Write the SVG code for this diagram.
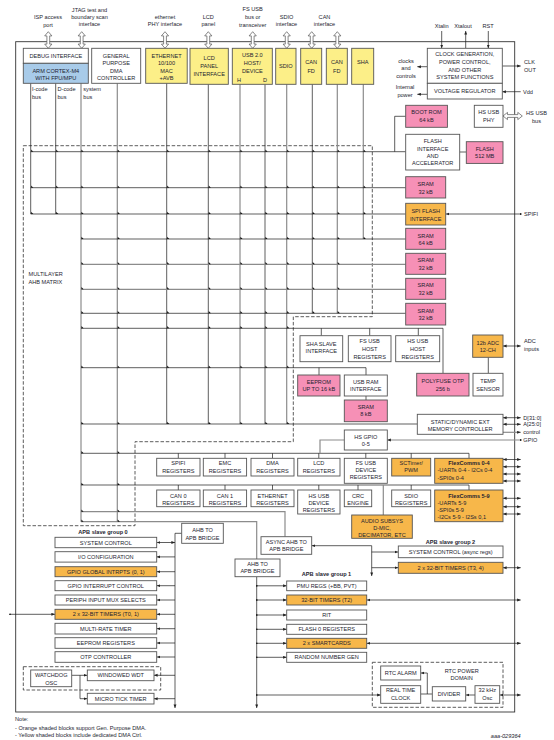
<svg xmlns="http://www.w3.org/2000/svg" width="554" height="740" viewBox="0 0 554 740">
<style>
text{font-family:"Liberation Sans",Arial,sans-serif;font-size:5.6px;fill:#1e1e30}
.c{text-anchor:middle}
.s{font-size:5.2px}
.bd{font-weight:bold}
.b{fill:#fff;stroke:#555;stroke-width:0.9}
.y{fill:#fcef88}
.o{fill:#f7b74a}
.p{fill:#f690b6}
.bl{fill:#a8cbe9}
.k{fill:none;stroke:#1a1a1a;stroke-width:0.7}
.g{fill:none;stroke:#8c8c8c;stroke-width:1.2}
.ds{fill:none;stroke:#333;stroke-width:0.8;stroke-dasharray:3.5 1.8}
.ha{fill:#fff;stroke:#555;stroke-width:0.7}
.mk{fill:#111}
</style>
<defs>
<marker id="a" viewBox="0 0 6 6" refX="6" refY="3" markerWidth="3.6" markerHeight="3.6" markerUnits="userSpaceOnUse" orient="auto-start-reverse"><path d="M0,0.6 L6,3 L0,5.4 Z" fill="#222"/></marker>
<marker id="dt" viewBox="0 0 4 4" refX="2" refY="2" markerWidth="1.8" markerHeight="1.8" markerUnits="userSpaceOnUse"><circle cx="2" cy="2" r="2" fill="#222"/></marker>
<path id="hv" d="M0,0 L3.6,4.2 L1.4,4.2 L1.4,12.4 L3.6,12.4 L0,16.6 L-3.6,12.4 L-1.4,12.4 L-1.4,4.2 L-3.6,4.2 Z"/>
<path id="m" d="M0.4,-2.2 L0.4,0 L2.6,0 Z"/>
</defs>
<rect width="554" height="740" fill="#fff"/>

<!-- outer frame and matrix outline -->
<rect x="15.7" y="41.7" width="499" height="670.3" fill="none" stroke="#333" stroke-width="0.9"/>
<polygon class="ds" points="23.3,145.7 372.3,145.7 372.3,316.7 293.3,316.7 293.3,441.7 135,441.7 135,525.7 23.3,525.7"/>
<text x="28.5" y="276.3">MULTILAYER</text>
<text x="28.5" y="284">AHB MATRIX</text>

<!-- external labels top -->
<g id="labels-top">
<text class="c" x="48" y="19.3">ISP access</text><text class="c" x="48" y="27">port</text>
<text class="c" x="89.5" y="12">JTAG test and</text><text class="c" x="89.5" y="19.3">boundary scan</text><text class="c" x="89.5" y="26.3">interface</text>
<text class="c" x="165" y="19.3">ethernet</text><text class="c" x="165" y="26.3">PHY interface</text>
<text class="c" x="208.3" y="18.7">LCD</text><text class="c" x="208.3" y="26">panel</text>
<text class="c" x="252.7" y="11.3">FS USB</text><text class="c" x="252.7" y="19.3">bus or</text><text class="c" x="252.7" y="27">transceiver</text>
<text class="c" x="286.5" y="19.3">SDIO</text><text class="c" x="286.5" y="26.3">interface</text>
<text class="c" x="324.5" y="19.3">CAN</text><text class="c" x="324.5" y="26.3">interface</text>
<text class="c" x="441.7" y="27.7">Xtalin</text><text class="c" x="463" y="27.7">Xtalout</text><text class="c" x="488" y="27.7">RST</text>
<text class="c" x="406" y="63">clocks</text><text class="c" x="406" y="70.3">and</text><text class="c" x="406" y="78">controls</text>
<text class="c" x="405" y="89.3">Internal</text><text class="c" x="405" y="97">power</text>
<text x="524" y="64.3">CLK</text><text x="524" y="72">OUT</text>
<text x="523" y="93.7">Vdd</text>
<text class="c" x="536.5" y="115.3">HS USB</text><text class="c" x="536.5" y="122.7">bus</text>
<text x="32" y="91.3">I-code</text><text x="32" y="98.7">bus</text>
<text x="57.5" y="91.3">D-code</text><text x="57.5" y="98.7">bus</text>
<text x="83.3" y="91.3">system</text><text x="83.3" y="98.7">bus</text>
<text x="524" y="216">SPIFI</text>
<text x="524" y="343">ADC</text><text x="524" y="351">inputs</text>
<text x="523.3" y="419.7">D[31:0]</text><text x="523.3" y="426.3">A[25:0]</text><text x="523.3" y="434.3" fill="#666">control</text><text x="523.3" y="442">GPIO</text>
<text class="c bd" x="103" y="533.5">APB slave group 0</text>
<text class="c bd" x="326.5" y="576.3">APB slave group 1</text>
<text class="c bd" x="450.5" y="544.3">APB slave group 2</text>
<text x="15" y="721">Note:</text>
<text x="15" y="729.7">- Orange shaded blocks support Gen. Purpose DMA.</text>
<text x="15" y="737">- Yellow shaded blocks include dedicated DMA Ctrl.</text>
<text x="520.7" y="737.5" text-anchor="end" font-size="4.5" font-style="italic">aaa-029364</text>
</g>

<!-- connectors -->
<g id="connectors">
<line class="k" x1="30.7" y1="83.3" x2="30.7" y2="214"/>
<line class="k" x1="55.7" y1="83.3" x2="55.7" y2="214"/>
<line class="g" x1="81" y1="83.3" x2="81" y2="521.7"/>
<line class="g" x1="117.3" y1="83.3" x2="117.3" y2="521.7"/>
<line class="k" x1="166.7" y1="83.3" x2="166.7" y2="424"/>
<line class="k" x1="208.3" y1="84.3" x2="208.3" y2="424"/>
<line class="g" x1="240" y1="84.3" x2="240" y2="424"/>
<line class="k" x1="265" y1="84.3" x2="265" y2="424"/>
<line class="g" x1="286.7" y1="84.3" x2="286.7" y2="424"/>
<line class="k" x1="312.3" y1="84.3" x2="312.3" y2="313.3"/>
<line class="g" x1="337.3" y1="84.3" x2="337.3" y2="313.3"/>
<line class="g" x1="363.3" y1="84.3" x2="363.3" y2="239"/>

<line class="k" x1="30.7" y1="151.7" x2="405.7" y2="151.7"/>
<line class="k" x1="30.7" y1="187.7" x2="405.7" y2="187.7"/>
<line class="k" x1="30.7" y1="214" x2="405.7" y2="214"/>
<line class="k" x1="81" y1="239" x2="405.7" y2="239"/>
<line class="g" x1="81" y1="264.3" x2="405.7" y2="264.3"/>
<line class="g" x1="81" y1="289.3" x2="405.7" y2="289.3"/>
<line class="k" x1="81" y1="313.3" x2="405.7" y2="313.3"/>
<path class="k" d="M81,328.3 H443 V373.3"/>
<path class="k" d="M321.3,328.3 V335.7 M369.7,328.3 V335.7 M418.3,328.3 V335.7"/>
<path class="k" d="M81,367.7 H366 V375 M319,367.7 V375"/>
<line class="k" x1="366" y1="396" x2="366" y2="400"/>
<line class="k" x1="488.3" y1="357.3" x2="488.3" y2="373.3"/>
<line class="k" x1="81" y1="424" x2="417.3" y2="424"/>
<line class="k" x1="81" y1="453.3" x2="469" y2="453.3"/>
<path class="k" d="M178.3,453.3 V458.3 M225,453.3 V458.3 M272.5,453.3 V458.3 M318.8,453.3 V458.3 M365.8,453.3 V458.3 M411.2,453.3 V458.3 M469,453.3 V458.3"/>
<path class="g" d="M344.3,440 H320 V453.3"/>
<line class="k" x1="81" y1="485" x2="469" y2="485"/>
<path class="k" d="M178.3,485 V490 M225,485 V490 M272.5,485 V490 M318.8,485 V490 M358,485 V490 M411.2,485 V490 M469,485 V490"/>
<path class="g" d="M383.3,485 V515"/>
<path class="g" d="M81,511.7 H285 V536.7"/>
<path class="g" d="M81,521.7 H256.7 V559"/>

<path class="k" d="M394.7,151.7 V116.3 H405.7"/>
<line class="k" x1="459.7" y1="152" x2="466.3" y2="152"/>

<!-- clock arrows -->
<line class="k" x1="441.7" y1="31" x2="441.7" y2="48.3" marker-end="url(#a)"/>
<line class="k" x1="465.7" y1="48.3" x2="465.7" y2="31" marker-end="url(#a)"/>
<line class="k" x1="488.3" y1="31" x2="488.3" y2="48.3" marker-end="url(#a)"/>
<line class="k" x1="427.3" y1="66.7" x2="417.3" y2="66.7" marker-end="url(#a)"/>
<line class="k" x1="427.3" y1="94.3" x2="417.3" y2="94.3" marker-end="url(#a)"/>
<line class="k" x1="502.3" y1="66" x2="520.7" y2="66" marker-end="url(#a)"/>
<line class="k" x1="520.7" y1="91.7" x2="502.3" y2="91.7" marker-end="url(#a)"/>

<!-- external IO -->
<line class="k" x1="520.7" y1="214" x2="445.7" y2="214" marker-start="url(#dt)" marker-end="url(#a)"/>
<line class="k" x1="503" y1="346" x2="520.7" y2="346" marker-start="url(#a)" marker-end="url(#a)"/>
<line class="k" x1="503" y1="417.7" x2="520.7" y2="417.7" marker-start="url(#a)" marker-end="url(#a)"/>
<line class="k" x1="503" y1="424.3" x2="520.7" y2="424.3" marker-start="url(#a)" marker-end="url(#a)"/>
<line class="g" x1="503" y1="432.3" x2="520.7" y2="432.3" marker-end="url(#a)"/>
<line class="g" x1="520.7" y1="440" x2="387.3" y2="440" marker-start="url(#dt)" marker-end="url(#a)"/>
<line class="k" x1="503" y1="459.5" x2="520.7" y2="459.5" marker-start="url(#a)" marker-end="url(#a)"/>
<line class="k" x1="503" y1="466.7" x2="520.7" y2="466.7" marker-start="url(#a)" marker-end="url(#a)"/>
<line class="k" x1="503" y1="474" x2="520.7" y2="474" marker-start="url(#a)" marker-end="url(#a)"/>
<line class="k" x1="503" y1="481" x2="520.7" y2="481" marker-start="url(#a)" marker-end="url(#a)"/>
<line class="k" x1="503" y1="498.3" x2="520.7" y2="498.3" marker-start="url(#a)" marker-end="url(#a)"/>
<line class="k" x1="503" y1="506.7" x2="520.7" y2="506.7" marker-start="url(#a)" marker-end="url(#a)"/>
<line class="k" x1="503" y1="514" x2="520.7" y2="514" marker-start="url(#a)" marker-end="url(#a)"/>

<!-- APB group 0 -->
<path class="k" d="M181.7,533.3 H175 V708" marker-end="url(#a)"/>
<line class="k" x1="175" y1="542.5" x2="156.7" y2="542.5" marker-start="url(#a)" marker-end="url(#a)"/>
<line class="k" x1="175" y1="556.9" x2="156.7" y2="556.9" marker-end="url(#a)"/>
<line class="k" x1="175" y1="571.7" x2="156.7" y2="571.7" marker-end="url(#a)"/>
<line class="k" x1="175" y1="585.7" x2="156.7" y2="585.7" marker-end="url(#a)"/>
<line class="k" x1="175" y1="600" x2="156.7" y2="600" marker-end="url(#a)"/>
<line class="k" x1="175" y1="614.3" x2="156.7" y2="614.3" marker-end="url(#a)"/>
<line class="k" x1="175" y1="628.7" x2="156.7" y2="628.7" marker-end="url(#a)"/>
<line class="k" x1="175" y1="643" x2="156.7" y2="643" marker-end="url(#a)"/>
<line class="k" x1="175" y1="657" x2="156.7" y2="657" marker-end="url(#a)"/>
<line class="k" x1="175" y1="675.3" x2="154" y2="675.3" marker-end="url(#a)"/>
<line class="k" x1="175" y1="698.7" x2="154" y2="698.7" marker-end="url(#a)"/>
<line class="k" x1="10" y1="614.3" x2="55" y2="614.3" marker-start="url(#dt)" marker-end="url(#a)"/>
<line class="k" x1="71.7" y1="675.3" x2="87.3" y2="675.3" marker-end="url(#a)"/>
<path class="k" d="M80,675.3 V698.7 H87.3" marker-end="url(#a)"/>

<!-- APB group 1 -->
<line class="k" x1="256.7" y1="576.7" x2="256.7" y2="708" marker-end="url(#a)"/>
<line class="k" x1="256.7" y1="585.8" x2="286.7" y2="585.8" marker-start="url(#dt)" marker-end="url(#a)"/>
<line class="k" x1="256.7" y1="600" x2="286.7" y2="600" marker-start="url(#dt)" marker-end="url(#a)"/>
<line class="k" x1="256.7" y1="615" x2="286.7" y2="615" marker-start="url(#dt)" marker-end="url(#a)"/>
<line class="k" x1="256.7" y1="629.3" x2="286.7" y2="629.3" marker-start="url(#dt)" marker-end="url(#a)"/>
<line class="k" x1="256.7" y1="643.3" x2="286.7" y2="643.3" marker-start="url(#dt)" marker-end="url(#a)"/>
<line class="k" x1="256.7" y1="657.3" x2="286.7" y2="657.3" marker-start="url(#dt)" marker-end="url(#a)"/>
<line class="k" x1="256.7" y1="695" x2="380.7" y2="695" marker-start="url(#dt)" marker-end="url(#a)"/>
<line class="k" x1="366.7" y1="600" x2="520.7" y2="600" marker-start="url(#a)" marker-end="url(#a)"/>
<line class="k" x1="366.7" y1="643.3" x2="520.7" y2="643.3" marker-start="url(#a)" marker-end="url(#a)"/>

<!-- APB group 2 -->
<line class="k" x1="371.7" y1="545.7" x2="311.7" y2="545.7" marker-end="url(#a)"/>
<line class="k" x1="371.7" y1="545.7" x2="371.7" y2="576" marker-end="url(#a)"/>
<line class="k" x1="371.7" y1="552" x2="398.3" y2="552" marker-end="url(#a)"/>
<line class="k" x1="371.7" y1="567.7" x2="398.3" y2="567.7" marker-end="url(#a)"/>
<line class="k" x1="503" y1="567.7" x2="520.7" y2="567.7" marker-start="url(#a)" marker-end="url(#a)"/>

<!-- RTC -->
<line class="k" x1="475" y1="695" x2="465.7" y2="695" marker-end="url(#a)"/>
<line class="k" x1="432.3" y1="694" x2="420.7" y2="694"/>
<path class="k" d="M427.3,694 V673 H420.7" marker-end="url(#a)"/>
<line class="k" x1="499.7" y1="695" x2="520.7" y2="695" marker-start="url(#a)" marker-end="url(#a)"/>

<!-- connection marks -->
<g class="mk">
<use href="#m" x="30.7" y="151.7"/><use href="#m" x="55.7" y="151.7"/><use href="#m" x="81" y="151.7"/><use href="#m" x="117.3" y="151.7"/><use href="#m" x="166.7" y="151.7"/><use href="#m" x="208.3" y="151.7"/><use href="#m" x="240" y="151.7"/><use href="#m" x="265" y="151.7"/><use href="#m" x="286.7" y="151.7"/><use href="#m" x="312.3" y="151.7"/><use href="#m" x="337.3" y="151.7"/><use href="#m" x="363.3" y="151.7"/>
<use href="#m" x="30.7" y="187.7"/><use href="#m" x="55.7" y="187.7"/><use href="#m" x="81" y="187.7"/><use href="#m" x="117.3" y="187.7"/><use href="#m" x="166.7" y="187.7"/><use href="#m" x="208.3" y="187.7"/><use href="#m" x="240" y="187.7"/><use href="#m" x="265" y="187.7"/><use href="#m" x="286.7" y="187.7"/><use href="#m" x="312.3" y="187.7"/><use href="#m" x="337.3" y="187.7"/><use href="#m" x="363.3" y="187.7"/>
<use href="#m" x="30.7" y="214"/><use href="#m" x="55.7" y="214"/><use href="#m" x="81" y="214"/><use href="#m" x="117.3" y="214"/><use href="#m" x="166.7" y="214"/><use href="#m" x="208.3" y="214"/><use href="#m" x="240" y="214"/><use href="#m" x="265" y="214"/><use href="#m" x="286.7" y="214"/><use href="#m" x="312.3" y="214"/><use href="#m" x="337.3" y="214"/><use href="#m" x="363.3" y="214"/>
<use href="#m" x="81" y="239"/><use href="#m" x="117.3" y="239"/><use href="#m" x="166.7" y="239"/><use href="#m" x="208.3" y="239"/><use href="#m" x="240" y="239"/><use href="#m" x="265" y="239"/><use href="#m" x="286.7" y="239"/><use href="#m" x="312.3" y="239"/><use href="#m" x="337.3" y="239"/><use href="#m" x="363.3" y="239"/>
<use href="#m" x="81" y="264.3"/><use href="#m" x="117.3" y="264.3"/><use href="#m" x="166.7" y="264.3"/><use href="#m" x="208.3" y="264.3"/><use href="#m" x="240" y="264.3"/><use href="#m" x="265" y="264.3"/><use href="#m" x="286.7" y="264.3"/><use href="#m" x="312.3" y="264.3"/><use href="#m" x="337.3" y="264.3"/>
<use href="#m" x="81" y="289.3"/><use href="#m" x="117.3" y="289.3"/><use href="#m" x="166.7" y="289.3"/><use href="#m" x="208.3" y="289.3"/><use href="#m" x="240" y="289.3"/><use href="#m" x="265" y="289.3"/><use href="#m" x="286.7" y="289.3"/><use href="#m" x="312.3" y="289.3"/><use href="#m" x="337.3" y="289.3"/>
<use href="#m" x="81" y="313.3"/><use href="#m" x="117.3" y="313.3"/><use href="#m" x="166.7" y="313.3"/><use href="#m" x="208.3" y="313.3"/><use href="#m" x="240" y="313.3"/><use href="#m" x="265" y="313.3"/><use href="#m" x="286.7" y="313.3"/><use href="#m" x="312.3" y="313.3"/><use href="#m" x="337.3" y="313.3"/>
<use href="#m" x="81" y="328.3"/><use href="#m" x="117.3" y="328.3"/><use href="#m" x="166.7" y="328.3"/><use href="#m" x="208.3" y="328.3"/><use href="#m" x="240" y="328.3"/><use href="#m" x="265" y="328.3"/><use href="#m" x="286.7" y="328.3"/>
<use href="#m" x="81" y="367.7"/><use href="#m" x="117.3" y="367.7"/><use href="#m" x="166.7" y="367.7"/><use href="#m" x="208.3" y="367.7"/><use href="#m" x="240" y="367.7"/><use href="#m" x="265" y="367.7"/><use href="#m" x="286.7" y="367.7"/>
<use href="#m" x="81" y="424"/><use href="#m" x="117.3" y="424"/><use href="#m" x="166.7" y="424"/><use href="#m" x="208.3" y="424"/><use href="#m" x="240" y="424"/><use href="#m" x="265" y="424"/><use href="#m" x="286.7" y="424"/>
<use href="#m" x="81" y="453.3"/><use href="#m" x="117.3" y="453.3"/><use href="#m" x="81" y="485"/><use href="#m" x="117.3" y="485"/>
<use href="#m" x="81" y="511.7"/><use href="#m" x="117.3" y="511.7"/><use href="#m" x="81" y="521.7"/><use href="#m" x="117.3" y="521.7"/>
</g>

<!-- hollow double arrows -->
<use href="#hv" class="ha" x="48.3" y="31.7"/>
<use href="#hv" class="ha" x="81.7" y="31.7"/>
<use href="#hv" class="ha" x="165" y="31.7"/>
<use href="#hv" class="ha" x="208.3" y="31.7"/>
<use href="#hv" class="ha" x="252.7" y="31.7"/>
<use href="#hv" class="ha" x="286.7" y="31.7"/>
<use href="#hv" class="ha" x="311.7" y="31.7"/>
<use href="#hv" class="ha" x="337.3" y="31.7"/>
<path class="ha" d="M503,116 L507.5,112.4 L507.5,114.6 L517.8,114.6 L517.8,112.4 L522.3,116 L517.8,119.6 L517.8,117.4 L507.5,117.4 L507.5,119.6 Z"/>
</g>

<!-- masters -->
<g id="n-debug"><rect class="b" x="23.3" y="48.3" width="65" height="15"/><text class="c" x="55.8" y="57.8">DEBUG INTERFACE</text></g>
<g id="n-arm"><rect class="b bl" x="23.3" y="63.3" width="65" height="20"/><text class="c" x="55.8" y="73">ARM CORTEX-M4</text><text class="c" x="55.8" y="79.7">WITH FPU/MPU</text></g>
<g id="n-dma"><rect class="b" x="91.7" y="48.3" width="49" height="35"/><text class="c" x="116.2" y="57.7">GENERAL</text><text class="c" x="116.2" y="65.3">PURPOSE</text><text class="c" x="116.2" y="72.7">DMA</text><text class="c" x="116.2" y="80.3">CONTROLLER</text></g>
<g id="n-eth"><rect class="b y" x="145.7" y="48.3" width="41.5" height="35"/><text class="c" x="166.5" y="57.7">ETHERNET</text><text class="c" x="166.5" y="65.3">10/100</text><text class="c" x="166.5" y="72.7">MAC</text><text class="c" x="166.5" y="80.3">+AVB</text></g>
<g id="n-lcd"><rect class="b y" x="190" y="48.3" width="38.3" height="36"/><text class="c" x="209.2" y="60.3">LCD</text><text class="c" x="209.2" y="68">PANEL</text><text class="c" x="209.2" y="76">INTERFACE</text></g>
<g id="n-usb"><rect class="b y" x="232.3" y="48.3" width="40" height="36"/><text class="c" x="252.3" y="57">USB 2.0</text><text class="c" x="252.3" y="64.7">HOST/</text><text class="c" x="252.3" y="72.7">DEVICE</text><text class="c" x="239" y="82">H</text><text class="c" x="265" y="82">D</text></g>
<g id="n-sdio"><rect class="b y" x="275.7" y="48.3" width="20.3" height="36"/><text class="c" x="285.8" y="68">SDIO</text></g>
<g id="n-can0"><rect class="b y" x="300.7" y="48.3" width="21" height="36"/><text class="c" x="311.2" y="64.3">CAN</text><text class="c" x="311.2" y="72.7">FD</text></g>
<g id="n-can1"><rect class="b y" x="326.3" y="48.3" width="21" height="36"/><text class="c" x="336.8" y="64.3">CAN</text><text class="c" x="336.8" y="72.7">FD</text></g>
<g id="n-sha"><rect class="b y" x="351.7" y="48.3" width="22" height="36"/><text class="c" x="362.7" y="64.3">SHA</text></g>
<g id="n-clock"><rect class="b" x="427.3" y="48.3" width="75" height="35"/><text class="c" x="464.8" y="56.3">CLOCK GENERATION,</text><text class="c" x="464.8" y="64.3">POWER CONTROL,</text><text class="c" x="464.8" y="72">AND OTHER</text><text class="c" x="464.8" y="79.3">SYSTEM FUNCTIONS</text></g>
<g id="n-vreg"><rect class="b" x="427.3" y="83.3" width="75" height="15.7"/><text class="c" x="464.8" y="93">VOLTAGE REGULATOR</text></g>
<g id="n-hsphy"><rect class="b" x="474.3" y="105.3" width="28.7" height="22"/><text class="c" x="488.7" y="114.3">HS USB</text><text class="c" x="488.7" y="122">PHY</text></g>

<!-- memory slaves -->
<g id="n-bootrom"><rect class="b p" x="405.7" y="105.3" width="41.7" height="22"/><text class="c" x="426.5" y="114.3">BOOT ROM</text><text class="c" x="426.5" y="122">64 kB</text></g>
<g id="n-flashif"><rect class="b" x="405.7" y="134.3" width="54" height="35.7"/><text class="c" x="432.7" y="143.3">FLASH</text><text class="c" x="432.7" y="150.5">INTERFACE</text><text class="c" x="432.7" y="157.8">AND</text><text class="c" x="432.7" y="165.3">ACCELERATOR</text></g>
<g id="n-flash"><rect class="b p" x="466.3" y="141.7" width="36.7" height="21.7"/><text class="c" x="484.7" y="150.5">FLASH</text><text class="c" x="484.7" y="158">512 MB</text></g>
<g id="n-sram0"><rect class="b p" x="405.7" y="176.7" width="40" height="21.3"/><text class="c" x="425.7" y="186.3">SRAM</text><text class="c" x="425.7" y="194">32 kB</text></g>
<g id="n-spifi"><rect class="b o" x="405.7" y="203.3" width="40" height="21.7"/><text class="c" x="425.7" y="213.2">SPI FLASH</text><text class="c" x="425.7" y="220.7">INTERFACE</text></g>
<g id="n-sram1"><rect class="b p" x="405.7" y="228.3" width="40" height="21"/><text class="c" x="425.7" y="237.7">SRAM</text><text class="c" x="425.7" y="244.7">64 kB</text></g>
<g id="n-sram2"><rect class="b p" x="405.7" y="253.3" width="40" height="21"/><text class="c" x="425.7" y="262.3">SRAM</text><text class="c" x="425.7" y="269.7">32 kB</text></g>
<g id="n-sram3"><rect class="b p" x="405.7" y="278.3" width="40" height="21"/><text class="c" x="425.7" y="287.3">SRAM</text><text class="c" x="425.7" y="294.7">32 kB</text></g>
<g id="n-sram4"><rect class="b p" x="405.7" y="303.3" width="40" height="21.7"/><text class="c" x="425.7" y="312.7">SRAM</text><text class="c" x="425.7" y="320">32 kB</text></g>

<!-- AHB slaves -->
<g id="n-shaslave"><rect class="b" x="300" y="335.7" width="42.7" height="26"/><text class="c" x="321.3" y="345.8">SHA SLAVE</text><text class="c" x="321.3" y="352.9">INTERFACE</text></g>
<g id="n-fshost"><rect class="b" x="348.3" y="335.7" width="42.7" height="26"/><text class="c" x="369.7" y="343">FS USB</text><text class="c" x="369.7" y="351">HOST</text><text class="c" x="369.7" y="358.7">REGISTERS</text></g>
<g id="n-hshost"><rect class="b" x="395.7" y="335.7" width="44" height="26"/><text class="c" x="417.7" y="343">HS USB</text><text class="c" x="417.7" y="351">HOST</text><text class="c" x="417.7" y="358.7">REGISTERS</text></g>
<g id="n-adc"><rect class="b o" x="472.7" y="335" width="30.3" height="22.3"/><text class="c" x="487.8" y="345.3">12b ADC</text><text class="c" x="487.8" y="352">12-CH</text></g>
<g id="n-eeprom"><rect class="b p" x="297.7" y="375" width="42.3" height="21"/><text class="c" x="318.8" y="383.7">EEPROM</text><text class="c" x="318.8" y="391.3">UP TO 16 kB</text></g>
<g id="n-usbram"><rect class="b" x="344.3" y="375" width="43" height="21"/><text class="c" x="365.8" y="383.7">USB RAM</text><text class="c" x="365.8" y="391.3">INTERFACE</text></g>
<g id="n-sram8"><rect class="b p" x="344.3" y="400" width="43" height="21.7"/><text class="c" x="365.8" y="409.3">SRAM</text><text class="c" x="365.8" y="416.3">8 kB</text></g>
<g id="n-otp"><rect class="b p" x="416.7" y="373.3" width="52.3" height="22.7"/><text class="c" x="442.8" y="382.7">POLYFUSE OTP</text><text class="c" x="442.8" y="391">256 b</text></g>
<g id="n-temp"><rect class="b" x="473" y="373.3" width="30" height="22.7"/><text class="c" x="488" y="382.7">TEMP</text><text class="c" x="488" y="391">SENSOR</text></g>
<g id="n-emc"><rect class="b" x="417.3" y="414.3" width="85.7" height="20"/><text class="c" x="460.2" y="423.7">STATIC/DYNAMIC EXT</text><text class="c" x="460.2" y="431.3">MEMORY CONTROLLER</text></g>
<g id="n-hsgpio"><rect class="b" x="344.3" y="430" width="43" height="20"/><text class="c" x="365.8" y="438.7">HS GPIO</text><text class="c" x="365.8" y="446">0-5</text></g>

<!-- AHB peripheral row 1 -->
<g id="n-spifireg"><rect class="b" x="156.7" y="458.3" width="43.3" height="17.7"/><text class="c" x="178.3" y="465.3">SPIFI</text><text class="c" x="178.3" y="472.7">REGISTERS</text></g>
<g id="n-emcreg"><rect class="b" x="203.3" y="458.3" width="43.3" height="17.7"/><text class="c" x="225" y="465.3">EMC</text><text class="c" x="225" y="472.7">REGISTERS</text></g>
<g id="n-dmareg"><rect class="b" x="251" y="458.3" width="43" height="17.7"/><text class="c" x="272.5" y="465.3">DMA</text><text class="c" x="272.5" y="472.7">REGISTERS</text></g>
<g id="n-lcdreg"><rect class="b" x="297.7" y="458.3" width="42.3" height="17.7"/><text class="c" x="318.8" y="465.3">LCD</text><text class="c" x="318.8" y="472.7">REGISTERS</text></g>
<g id="n-fsdev"><rect class="b" x="344.3" y="458.3" width="43" height="25"/><text class="c" x="365.8" y="465.3">FS USB</text><text class="c" x="365.8" y="472">DEVICE</text><text class="c" x="365.8" y="479.3">REGISTERS</text></g>
<g id="n-sct"><rect class="b o" x="391.7" y="458.3" width="39" height="17.7"/><text class="c" x="411.2" y="465.3">SCTimer/</text><text class="c" x="411.2" y="472.3">PWM</text></g>
<g id="n-fc04"><rect class="b o" x="434.7" y="458.3" width="68.3" height="25"/><text class="c bd" x="469" y="464.5">FlexComms 0-4</text><text x="437.5" y="472">-UARTs 0-4 - I2Cs 0-4</text><text x="437.5" y="479.7">-SPI0s 0-4</text></g>

<!-- AHB peripheral row 2 -->
<g id="n-can0reg"><rect class="b" x="156.7" y="490" width="43.3" height="16.7"/><text class="c" x="178.3" y="497.5">CAN 0</text><text class="c" x="178.3" y="504.5">REGISTERS</text></g>
<g id="n-can1reg"><rect class="b" x="203.3" y="490" width="43.3" height="16.7"/><text class="c" x="225" y="497.5">CAN 1</text><text class="c" x="225" y="504.5">REGISTERS</text></g>
<g id="n-ethreg"><rect class="b" x="251" y="490" width="43" height="16.7"/><text class="c" x="272.5" y="497.5">ETHERNET</text><text class="c" x="272.5" y="504.5">REGISTERS</text></g>
<g id="n-hsdev"><rect class="b" x="297.7" y="490" width="42.3" height="24"/><text class="c" x="318.8" y="497.5">HS USB</text><text class="c" x="318.8" y="504.7">DEVICE</text><text class="c" x="318.8" y="512">REGISTERS</text></g>
<g id="n-crc"><rect class="b" x="344.3" y="490" width="27.4" height="16.7"/><text class="c" x="358" y="497.5">CRC</text><text class="c" x="358" y="504.5">ENGINE</text></g>
<g id="n-sdioreg"><rect class="b" x="391.7" y="490" width="39" height="16.7"/><text class="c" x="411.2" y="497.5">SDIO</text><text class="c" x="411.2" y="504.5">REGISTERS</text></g>
<g id="n-fc59"><rect class="b o" x="434.7" y="490" width="68.3" height="31.7"/><text class="c bd" x="469" y="497.5">FlexComms 5-9</text><text x="437.5" y="504.7">-UARTs 5-9</text><text x="437.5" y="512">-SPI0s 5-9</text><text x="437.5" y="519">-I2Cs 5-9 - I2Ss 0,1</text></g>
<g id="n-audio"><rect class="b o" x="351.7" y="515" width="60.6" height="23.3"/><text class="c" x="382" y="522.7">AUDIO SUBSYS</text><text class="c" x="382" y="530.3">D-MIC,</text><text class="c" x="382" y="537.3">DECIMATOR, ETC</text></g>

<!-- bridges -->
<g id="n-bridge0"><rect class="b" x="181.7" y="523.3" width="41.6" height="20"/><text class="c" x="202.5" y="532">AHB TO</text><text class="c" x="202.5" y="539.7">APB BRIDGE</text></g>
<g id="n-bridge1"><rect class="b" x="235" y="559" width="45" height="17.7"/><text class="c" x="257.5" y="565.7">AHB TO</text><text class="c" x="257.5" y="572.7">APB BRIDGE</text></g>
<g id="n-bridge2"><rect class="b" x="261" y="536.7" width="50.7" height="17.6"/><text class="c" x="286.3" y="543.7">ASYNC AHB TO</text><text class="c" x="286.3" y="551.3">APB BRIDGE</text></g>

<!-- APB group 0 -->
<g id="n-sysctl"><rect class="b" x="55" y="537.3" width="101.7" height="10.4"/><text class="c" x="105.8" y="544.6">SYSTEM CONTROL</text></g>
<g id="n-iocon"><rect class="b" x="55" y="551.7" width="101.7" height="10.4"/><text class="c" x="105.8" y="559">I/O CONFIGURATION</text></g>
<g id="n-gint"><rect class="b o" x="55" y="566.7" width="101.7" height="10"/><text class="c" x="105.8" y="573.8">GPIO GLOBAL INTRPTS (0, 1)</text></g>
<g id="n-pint"><rect class="b" x="55" y="580.7" width="101.7" height="10"/><text class="c" x="105.8" y="587.8">GPIO INTERRUPT CONTROL</text></g>
<g id="n-inmux"><rect class="b" x="55" y="595" width="101.7" height="10"/><text class="c" x="105.8" y="602.1">PERIPH INPUT MUX SELECTS</text></g>
<g id="n-t01"><rect class="b o" x="55" y="609.3" width="101.7" height="10"/><text class="c" x="105.8" y="616.4">2 x 32-BIT TIMERS (T0, 1)</text></g>
<g id="n-mrt"><rect class="b" x="55" y="623.3" width="101.7" height="10.7"/><text class="c" x="105.8" y="630.7">MULTI-RATE TIMER</text></g>
<g id="n-eereg"><rect class="b" x="55" y="637.7" width="101.7" height="10.6"/><text class="c" x="105.8" y="645">EEPROM REGISTERS</text></g>
<g id="n-otpc"><rect class="b" x="55" y="651.7" width="101.7" height="10.6"/><text class="c" x="105.8" y="659">OTP CONTROLLER</text></g>
<rect class="ds" x="23.3" y="666.7" width="137.4" height="23.3"/>
<g id="n-wdosc"><rect class="b" x="30.7" y="670" width="41" height="16.7"/><text class="c" x="51.2" y="677">WATCHDOG</text><text class="c" x="51.2" y="684.5">OSC</text></g>
<g id="n-wwdt"><rect class="b" x="87.3" y="670" width="66.7" height="10.7"/><text class="c" x="120.7" y="677.4">WINDOWED WDT</text></g>
<g id="n-utick"><rect class="b" x="87.3" y="693.3" width="66.7" height="10.7"/><text class="c" x="120.7" y="700.7">MICRO TICK TIMER</text></g>

<!-- APB group 1 -->
<g id="n-pmu"><rect class="b" x="286.7" y="581" width="80" height="9.7"/><text class="c" x="326.7" y="587.9">PMU REGS (+BB, PVT)</text></g>
<g id="n-t2"><rect class="b o" x="286.7" y="595" width="80" height="10"/><text class="c" x="326.7" y="602.1">32-BIT TIMERS (T2)</text></g>
<g id="n-rit"><rect class="b" x="286.7" y="610" width="80" height="10"/><text class="c" x="326.7" y="617.1">RIT</text></g>
<g id="n-flash0"><rect class="b" x="286.7" y="624.3" width="80" height="10"/><text class="c" x="326.7" y="631.4">FLASH 0 REGISTERS</text></g>
<g id="n-smart"><rect class="b o" x="286.7" y="638.3" width="80" height="10"/><text class="c" x="326.7" y="645.4">2 x SMARTCARDS</text></g>
<g id="n-rng"><rect class="b" x="286.7" y="652.3" width="80" height="10"/><text class="c" x="326.7" y="659.4">RANDOM NUMBER GEN</text></g>

<!-- APB group 2 -->
<g id="n-sysctla"><rect class="b" x="398.3" y="546" width="104.7" height="11.7"/><text class="c" x="450.7" y="554">SYSTEM CONTROL (async regs)</text></g>
<g id="n-t34"><rect class="b o" x="398.3" y="562.3" width="104.7" height="11"/><text class="c" x="450.7" y="570">2 x 32-BIT TIMERS (T3, 4)</text></g>

<!-- RTC power domain -->
<rect class="ds" x="372.3" y="662.3" width="130.7" height="45"/>
<text class="c" x="461.7" y="672.7">RTC POWER</text><text class="c" x="461.7" y="679.5">DOMAIN</text>
<g id="n-rtcalarm"><rect class="b" x="380.7" y="666" width="40" height="14"/><text class="c" x="400.7" y="675.2">RTC ALARM</text></g>
<g id="n-rtc"><rect class="b" x="380.7" y="685.7" width="40" height="17.6"/><text class="c" x="400.7" y="692.2">REAL TIME</text><text class="c" x="400.7" y="699.7">CLOCK</text></g>
<g id="n-div"><rect class="b" x="432.3" y="686.7" width="33.4" height="14.3"/><text class="c" x="449" y="696">DIVIDER</text></g>
<g id="n-osc32"><rect class="b" x="475" y="685.7" width="24.7" height="17.6"/><text class="c" x="487.3" y="692.2">32 kHz</text><text class="c" x="487.3" y="699.7">Osc</text></g>
</svg>
